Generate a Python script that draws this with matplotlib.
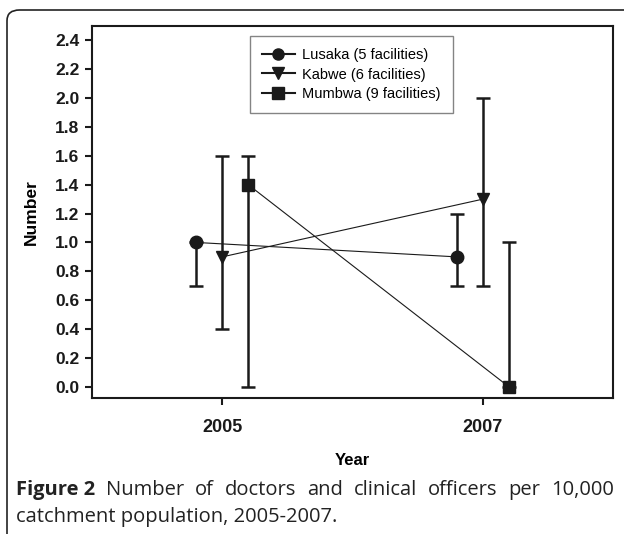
import numpy as np
import matplotlib.pyplot as plt
from matplotlib.patches import FancyBboxPatch

years = [2005, 2007]
series = ["Lusaka (5 facilities)", "Kabwe (6 facilities)", "Mumbwa (9 facilities)"]
markers = ["o", "v", "s"]
offsets = [-0.2, 0.0, 0.2]

lusaka = [1.0, 0.9]
lusaka_lo = [0.7, 0.7]
lusaka_hi = [1.0, 1.2]

kabwe = [0.9, 1.3]
kabwe_lo = [0.4, 0.7]
kabwe_hi = [1.6, 2.0]

mumbwa = [1.4, 0.0]
mumbwa_lo = [0.0, 0.0]
mumbwa_hi = [1.6, 1.0]

values = [lusaka, kabwe, mumbwa]
lows = [lusaka_lo, kabwe_lo, mumbwa_lo]
highs = [lusaka_hi, kabwe_hi, mumbwa_hi]

yticks = [0.0, 0.2, 0.4, 0.6, 0.8, 1.0, 1.2, 1.4, 1.6, 1.8, 2.0, 2.2, 2.4]

caption_bold = "Figure 2"
caption_line1 = "Number of doctors and clinical officers per 10,000"
caption_line2 = "catchment population, 2005-2007."

plt.rcParams["font.family"] = ["Liberation Sans", "DejaVu Sans"]

fig = plt.figure(figsize=(6.24, 5.34), dpi=100)
W, H = 624, 534

# outer rounded frame
frame = FancyBboxPatch((7 / W, -0.05), 1.2, (534 - 10) / H + 0.05,
                       boxstyle="round,pad=0,rounding_size=0.02",
                       transform=fig.transFigure, facecolor="none",
                       edgecolor="#222222", linewidth=1.2, clip_on=False)
fig.patches.append(frame)

ax = fig.add_axes([92 / W, 1 - 398 / H, (613 - 92) / W, (398 - 26) / H])

for name, mk, off, v, lo, hi in zip(series, markers, offsets, values, lows, highs):
    x = np.array(years) + off
    v = np.array(v)
    yerr = [v - np.array(lo), np.array(hi) - v]
    ax.errorbar(x, v, yerr=yerr, fmt="none", ecolor="#1a1a1a",
                elinewidth=1.8, capsize=5, capthick=1.8, zorder=2)
    ax.plot(x, v, color="#1a1a1a", linewidth=0.8, marker=mk,
            markersize=9 if mk != "s" else 8.5, markerfacecolor="#1a1a1a",
            markeredgecolor="#1a1a1a", label=name, zorder=3)

ax.set_xlim(2004, 2008)
ax.set_ylim(-0.078, 2.5)
ax.set_xticks(years)
ax.set_xticklabels([str(y) for y in years])
ax.set_yticks(yticks)
ax.set_yticklabels([f"{t:.1f}" for t in yticks])

for s in ax.spines.values():
    s.set_linewidth(1.5)
    s.set_color("#1a1a1a")
ax.tick_params(direction="out", length=5, width=1.5, labelsize=12.5, pad=4,
               colors="#1a1a1a")
ax.tick_params(axis="x", pad=10, labelsize=13)
for lab in ax.get_xticklabels() + ax.get_yticklabels():
    lab.set_fontweight("bold")

ax.set_xlabel("Year", fontsize=12, fontweight="bold", labelpad=12)
ax.set_ylabel("Number", fontsize=12.5, fontweight="bold", labelpad=12)

leg = ax.legend(loc="upper left", bbox_to_anchor=(0.303, 0.973), fontsize=10.5,
                frameon=True, fancybox=False, edgecolor="#666666",
                handlelength=2.3, handletextpad=0.5, borderpad=0.8,
                labelspacing=0.4, borderaxespad=0)
leg.get_frame().set_linewidth(1.0)
for h in leg.legend_handles:
    h.set_markersize(8)
    h.set_linewidth(1.5)

# caption, first line justified across the frame
cap_font = ["Open Sans", "DejaVu Sans"]
cap_size = 14.5
y1 = 1 - 490 / H
y2 = 1 - 517 / H
left, right = 16, 614
fig.canvas.draw()
r = fig.canvas.get_renderer()
words = [(caption_bold, "bold")] + [(w, "normal") for w in caption_line1.split()]
items = []
for w, wt in words:
    t = fig.text(0, y1, w, fontsize=cap_size, fontweight=wt, family=cap_font,
                 va="center", ha="left", color="#222222")
    items.append((t, t.get_window_extent(r).width))
total = sum(wd for _, wd in items)
gap = (right - left - total) / (len(items) - 1)
xpos = left
for t, wd in items:
    t.set_x(xpos / W)
    xpos += wd + gap
fig.text(left / W, y2, caption_line2, fontsize=cap_size, family=cap_font,
         va="center", ha="left", color="#222222")

fig.savefig("out.png", dpi=100)
